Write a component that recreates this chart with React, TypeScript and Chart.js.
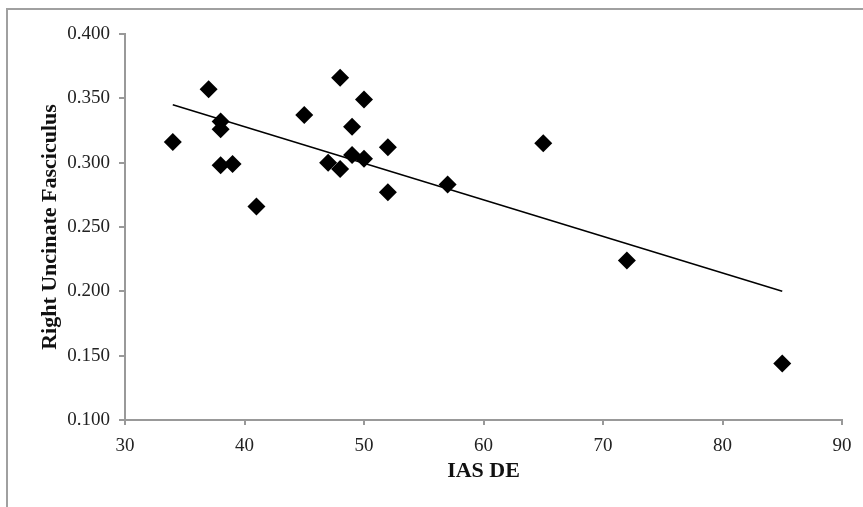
import React, { useEffect, useRef } from "react";
import { Chart, registerables } from "chart.js";

Chart.register(...registerables);

const iasDE: number[] = [34, 37, 38, 38, 38, 39, 41, 45, 47, 48, 48, 49, 49, 50, 50, 52, 52, 57, 65, 72, 85];
const rightUF: number[] = [0.316, 0.357, 0.332, 0.326, 0.298, 0.299, 0.266, 0.337, 0.300, 0.295, 0.366, 0.328, 0.306, 0.349, 0.303, 0.312, 0.277, 0.283, 0.315, 0.224, 0.144];
const trendX: number[] = [34, 85];
const trendY: number[] = [0.345, 0.2];
const xTitle = "IAS DE";
const yTitle = "Right Uncinate Fasciculus";

const frame = {
  id: "frame",
  beforeDraw(chart: any) {
    const ctx = chart.ctx;
    ctx.save();
    ctx.strokeStyle = "#a0a0a0";
    ctx.lineWidth = 2;
    ctx.beginPath();
    ctx.moveTo(7, 600);
    ctx.lineTo(7, 9);
    ctx.lineTo(900, 9);
    ctx.stroke();
    ctx.restore();
  },
};

export default function App() {
  const ref = useRef<HTMLCanvasElement>(null);
  useEffect(() => {
    if (!ref.current) return;
    const tickFont = { family: "'Liberation Serif', 'Times New Roman', serif", size: 19 };
    const titleFont = { family: "'Liberation Serif', 'Times New Roman', serif", size: 22, weight: "bold" as const };
    const chart = new Chart(ref.current, {
      type: "scatter",
      data: {
        datasets: [
          {
            label: "data",
            data: iasDE.map((x, i) => ({ x, y: rightUF[i] })),
            pointStyle: "rectRot",
            pointRadius: 9,
            pointHoverRadius: 9,
            backgroundColor: "#000",
            borderColor: "#000",
            borderWidth: 0,
          },
          {
            label: "trend",
            type: "line",
            data: trendX.map((x, i) => ({ x, y: trendY[i] })),
            showLine: true,
            pointRadius: 0,
            borderColor: "#000",
            borderWidth: 1.5,
            fill: false,
          } as any,
        ],
      },
      options: {
        animation: false,
        responsive: false,
        maintainAspectRatio: false,
        events: [],
        layout: { padding: { left: 0, top: 34, right: 21, bottom: 0 }, autoPadding: false } as any,
        plugins: { legend: { display: false }, tooltip: { enabled: false } },
        scales: {
          x: {
            type: "linear",
            min: 30,
            max: 90,
            ticks: { stepSize: 10, font: tickFont, color: "#222", padding: 10 },
            grid: { drawOnChartArea: false, drawTicks: true, tickLength: 5, color: "#999", lineWidth: 2 },
            border: { color: "#999", width: 2 },
            title: { display: true, text: xTitle, font: titleFont, color: "#111", padding: { top: 0, bottom: 22 } },
            afterFit: (s: any) => { s.height = 87; },
          },
          y: {
            type: "linear",
            min: 0.1,
            max: 0.4,
            ticks: { stepSize: 0.05, font: tickFont, color: "#222", padding: 9, callback: (v: any) => Number(v).toFixed(3) },
            grid: { drawOnChartArea: false, drawTicks: true, tickLength: 6, color: "#999", lineWidth: 2 },
            border: { color: "#999", width: 2 },
            title: { display: true, text: yTitle, font: titleFont, color: "#111", padding: { top: 37, bottom: 0 } },
            afterFit: (s: any) => { s.width = 125; },
          },
        },
      },
      plugins: [frame],
    });
    return () => chart.destroy();
  }, []);
  return (
    <div style={{ position: "absolute", left: 0, top: 0, width: 863, height: 507, background: "#fff" }}>
      <canvas ref={ref} width={863} height={507} style={{ width: 863, height: 507, display: "block" }} />
    </div>
  );
}
